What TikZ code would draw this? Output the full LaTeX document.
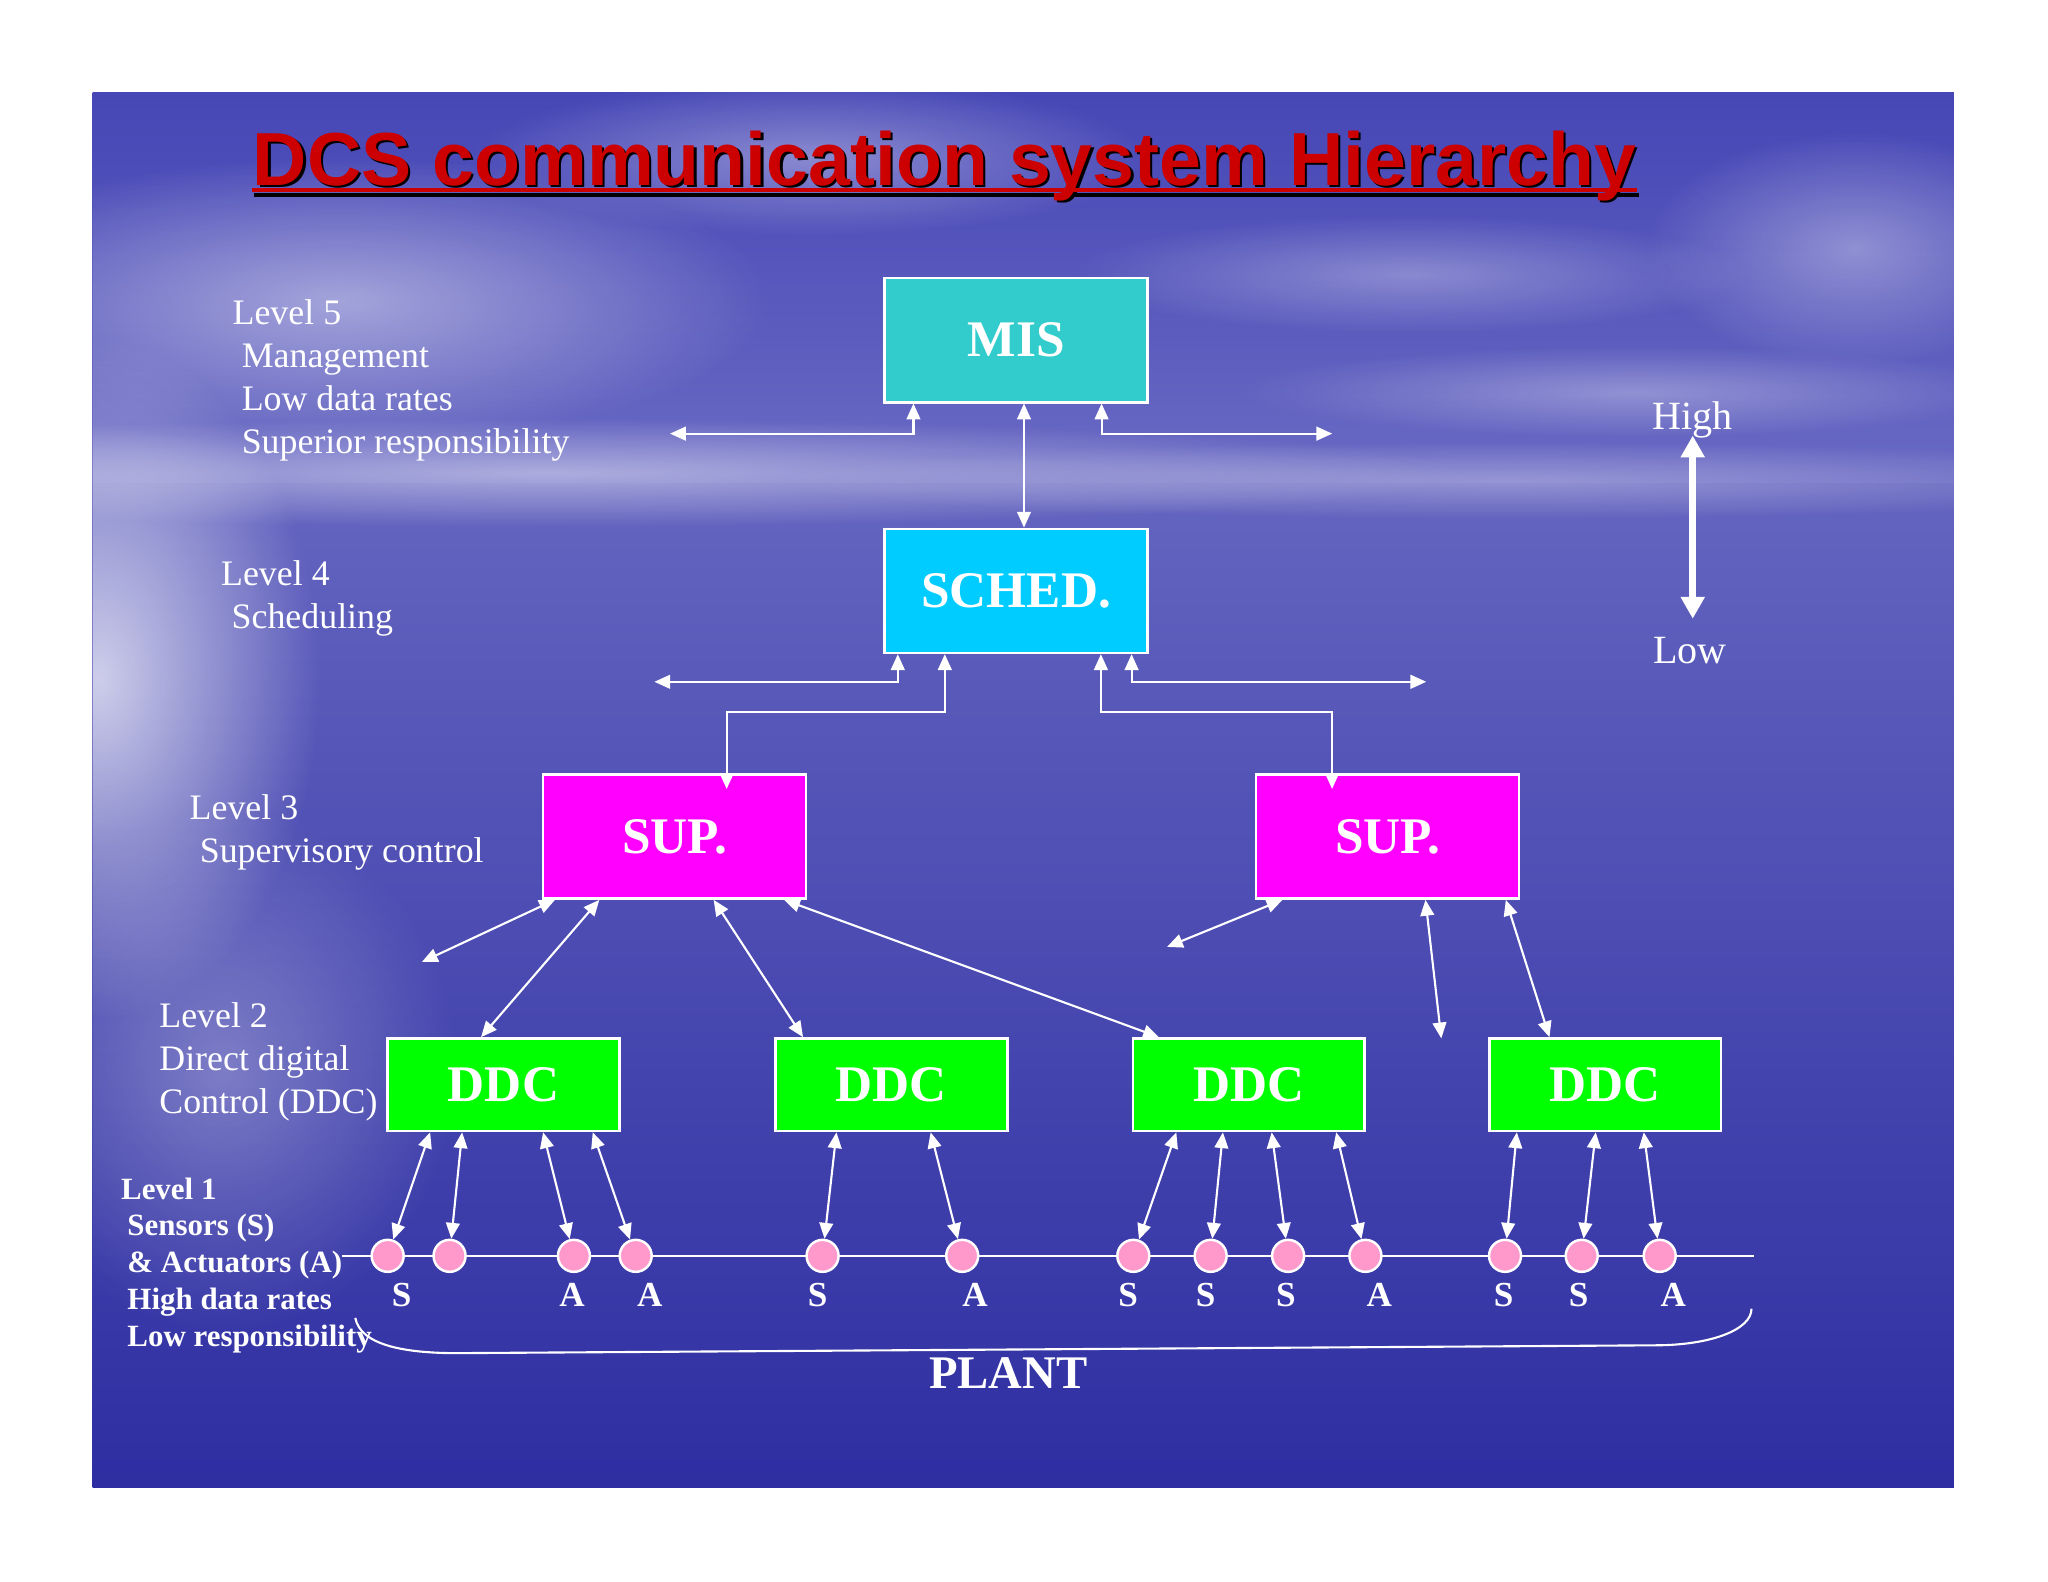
\documentclass[tikz,border=0pt]{standalone}
\usepackage{fontspec}
\setmainfont{Liberation Serif}
\newfontfamily\headfont{Liberation Sans}
\usetikzlibrary{arrows.meta,positioning,calc,fadings}
\definecolor{SkyTop}{HTML}{4646B6}
\definecolor{SkyLow}{HTML}{6A6AC4}
\definecolor{SeaTop}{HTML}{6464C0}
\definecolor{SeaMid}{HTML}{3232A8}
\definecolor{SeaLow}{HTML}{2E2EA2}
\definecolor{TitleRed}{HTML}{CC0000}
\definecolor{MisTeal}{HTML}{33CCCC}
\definecolor{SchedCyan}{HTML}{00CCFF}
\definecolor{SupMagenta}{HTML}{FF00FF}
\definecolor{DdcGreen}{HTML}{00FF00}
\definecolor{SensorPink}{HTML}{FF99CC}
\tikzfading[name=softglow, inner color=transparent!0, outer color=transparent!100]
\tikzset{
  unitbox/.style={draw=white,line width=0.7pt,minimum width=2.63cm,minimum height=1.241cm,inner sep=0pt,align=center,font=\bfseries\fontsize{14.6}{17}\selectfont,text=white},
  misbox/.style={unitbox,fill=MisTeal},
  schedbox/.style={unitbox,fill=SchedCyan},
  supbox/.style={unitbox,fill=SupMagenta},
  ddcbox/.style={unitbox,fill=DdcGreen,minimum width=2.318cm,minimum height=0.927cm},
  sensor/.style={circle,draw=white,line width=0.7pt,fill=SensorPink,minimum size=0.32cm,inner sep=0pt},
  salabel/.style={font=\bfseries\fontsize{10}{12}\selectfont,text=white,inner sep=0pt,anchor=base},
  levelnote/.style={font=\fontsize{10.2}{12.2}\selectfont,text=white,align=left,anchor=base west,inner sep=0pt},
  levelnotebold/.style={levelnote,font=\bfseries\fontsize{8.8}{10.5}\selectfont},
  hilo/.style={font=\fontsize{11.4}{13}\selectfont,text=white,inner sep=0pt,anchor=base},
  plantlabel/.style={font=\bfseries\fontsize{13.3}{15}\selectfont,text=white,inner sep=0pt,anchor=base},
  titletext/.style={font=\headfont\bfseries\fontsize{21.4}{24}\selectfont,text=TitleRed,inner sep=0pt,anchor=base west},
  titleshade/.style={titletext,text=black},
  link/.style={>={Triangle[length=4.5pt,width=3.9pt]},<->,draw=white,line width=0.6pt},
  plainline/.style={draw=white,line width=0.6pt},
  bigarrow/.style={>={Triangle[length=6.2pt,width=6.5pt]},<->,draw=white,line width=1.9pt},
  glow/.style={fill=white,path fading=softglow}
}

\begin{document}
\begin{tikzpicture}[x=0.0130612cm,y=-0.0130612cm,node distance=1.241cm]
  % page and slide background
  \fill[white] (0,0) rectangle (1568,1211);
  \useasboundingbox (0,0) rectangle (1568,1211);
  \begin{scope}
    \clip (71,71) rectangle (1496,1139);
    \shade[top color=SkyTop,bottom color=SkyLow] (71,71) rectangle (1496,372);
    \shade[top color=SeaTop,middle color=SeaMid,bottom color=SeaLow] (71,370) rectangle (1496,1139);
    \fill[glow,opacity=0.45] (260,230) ellipse (330 and 110);
    \fill[glow,opacity=0.35] (620,120) ellipse (260 and 60);
    \fill[glow,opacity=0.30] (1080,210) ellipse (260 and 45);
    \fill[glow,opacity=0.35] (1420,190) ellipse (160 and 90);
    \fill[glow,opacity=0.30] (1250,300) ellipse (300 and 35);
    \fill[glow,opacity=0.45] (420,362) ellipse (700 and 42);
    \fill[glow,opacity=0.30] (1150,368) ellipse (560 and 30);
    \fill[glow,opacity=0.70] (75,520) ellipse (170 and 260);
    \fill[glow,opacity=0.30] (170,820) ellipse (180 and 200);
  \end{scope}

  % title
  \node[titleshade] (titleshadow) at (194.8,143.5) {DCS communication system Hierarchy};
  \draw[black,line width=1.1pt] ($(titleshadow.base west)+(0,5.5)$) -- ($(titleshadow.base east)+(0,5.5)$);
  \node[titletext] (title) at (193,141.7) {DCS communication system Hierarchy};
  \draw[TitleRed,line width=1.1pt] ($(title.base west)+(0,4)$) -- ($(title.base east)+(0,4)$);

  % level notes (anchored on the last line)
  \node[levelnote] (lvfive) at (177.6,347) {Level 5\\\hspace*{2.6pt}Management\\\hspace*{2.6pt}Low data rates\\\hspace*{2.6pt}Superior responsibility};
  \node[levelnote] (lvfour) at (168.8,481) {Level 4\\\hspace*{3pt}Scheduling};
  \node[levelnote] (lvthree) at (144.7,660) {Level 3\\\hspace*{2.9pt}Supervisory control};
  \node[levelnote] (lvtwo) at (121.5,852.5) {Level 2\\Direct digital\\Control (DDC)};
  \node[levelnotebold] (lvone) at (92.2,1031) {Level 1\\\hspace*{1.8pt}Sensors (S)\\\hspace*{1.8pt}\& Actuators (A)\\\hspace*{1.8pt}High data rates\\\hspace*{1.8pt}Low responsibility};

  % hierarchy boxes
  \node[misbox] (mis) at (778,260.5) {MIS};
  \node[schedbox,below=of mis] (sched) {SCHED.};
  \node[supbox] (supl) at (516.5,640.5) {SUP.};
  \node[supbox] (supr) at (1062.5,640.5) {SUP.};
  \node[ddcbox] (ddc1) at (385.5,830.5) {DDC};
  \node[ddcbox] (ddc2) at (682.5,830.5) {DDC};
  \node[ddcbox] (ddc3) at (956,830.5) {DDC};
  \node[ddcbox] (ddc4) at (1229,830.5) {DDC};

  % free ends
  \coordinate (misL) at (513,332);
  \coordinate (misR) at (1020,332);
  \coordinate (schedL) at (501,522);
  \coordinate (schedR) at (1092,522);
  \coordinate (suplfree) at (323,736.5);
  \coordinate (suprfree) at (893.5,725);
  \coordinate (suprgap) at (1103.5,795);

  % links between levels
  \draw[link] (misL) -| ($(mis.south west)+(23,0)$);
  \draw[link] ($(mis.south west)+(167,0)$) |- (misR);
  \draw[link] ($(mis.south)+(6,0)$) -- ($(sched.north)+(6,0)$);
  \draw[link] (schedL) -| ($(sched.south west)+(11,0)$);
  \draw[link] ($(sched.south west)+(190,0)$) |- (schedR);
  \draw[link] ($(sched.south west)+(47,0)$) |- ($(supl.north west)+(141.5,-47)$) -- ($(supl.north west)+(141.5,12)$);
  \draw[link] ($(sched.south west)+(166.5,0)$) |- ($(supr.north west)+(59,-47)$) -- ($(supr.north west)+(59,12)$);
  \draw[link] ($(supl.south west)+(10,0)$) -- (suplfree);
  \draw[link] ($(supl.south west)+(44,0)$) -- ($(ddc1.north west)+(72.5,0)$);
  \draw[link] ($(supl.south west)+(131.5,0)$) -- ($(ddc2.north west)+(22,0)$);
  \draw[link] ($(supl.south west)+(185.5,0)$) -- ($(ddc3.north west)+(21,0)$);
  \draw[link] ($(supr.south west)+(21,0)$) -- (suprfree);
  \draw[link] ($(supr.south west)+(130.5,0)$) -- (suprgap);
  \draw[link] ($(supr.south west)+(192,0)$) -- ($(ddc4.north west)+(47,0)$);

  % sensor / actuator bus
  \coordinate (busL) at (262,961.5);
  \coordinate (busR) at (1342.6,961.5);
  \draw[plainline] (busL) -- (busR);
  \foreach \x [count=\i] in {296.8,344.2,439.4,486.7,629.8,736.7,867.7,926.9,986.2,1045.4,1152.3,1211,1270.7}
    \node[sensor] (s\i) at (\x,961.5) {};
  \foreach \x/\t [count=\i] in {307.6/S,438/A,497.5/A,626/S,746.5/A,863.7/S,923/S,984.6/S,1056/A,1151.3/S,1208.6/S,1281.2/A}
    \node[salabel] (sa\i) at (\x,1000) {\t};
  \foreach \d/\dx/\s in {1/33.5/1,1/58/2,1/120/3,1/158/4,2/47.6/5,2/119.7/6,3/34.3/7,3/70/8,3/107.3/9,3/156.7/10,4/22/11,4/82.4/12,4/119.2/13}
    \draw[link] ($(ddc\d.south west)+(\dx,0)$) -- (s\s);

  % plant bracket
  \coordinate (plantL) at (272,1009);
  \coordinate (plantR) at (1341,1002);
  \draw[plainline] (plantL) .. controls (276,1030) and (310,1036) .. (350,1036) -- (1267,1030) .. controls (1310,1030) and (1341,1018) .. (plantR);
  \node[plantlabel] (plant) at (772,1063) {PLANT};

  % high / low scale
  \node[hilo] (high) at (1296,329) {High};
  \node[hilo] (low) at (1294,507.8) {Low};
  \draw[bigarrow,shorten <=-1pt,shorten >=5pt] (high.south) -- (high.south |- low.north);
\end{tikzpicture}
\end{document}
